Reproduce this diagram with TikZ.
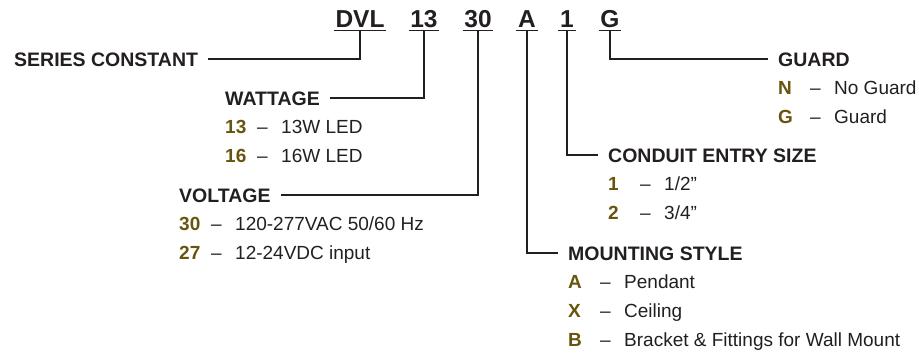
\documentclass[tikz,border=0pt]{standalone}
\usepackage{fontspec}
\setmainfont{Liberation Sans}
\usepackage{xcolor}
\usetikzlibrary{positioning}
\definecolor{keyolive}{RGB}{102,85,12}
\definecolor{keyink}{RGB}{35,31,32}
\newcommand{\choice}[2]{\makebox[32pt][l]{\bfseries\color{keyolive}#1}\makebox[24pt][l]{--}#2}

\begin{document}
\begin{tikzpicture}[
  x=1pt, y=-1pt,
  every node/.style={text=keyink, inner sep=0pt},
  topcode/.style={anchor=base, font=\fontsize{24.5}{25}\selectfont\bfseries, text height=17.5pt, text depth=3pt, inner xsep=1.5pt},
  heading/.style={anchor=base west, font=\fontsize{19.5}{20}\selectfont\bfseries, text height=14pt, text depth=0pt},
  row/.style={below=28.7pt of #1.base west, anchor=base west, font=\fontsize{19}{20}\selectfont},
  lead/.style={draw=keyink, line width=2.6pt, shorten >=10pt},
  underline/.style={draw=keyink, line width=1.4pt}
]
\useasboundingbox (0,0) rectangle (919,354);

% Part number
\node[topcode] (cdvl) at (360,27) {DVL};
\node[topcode] (c13) at (424,27) {13};
\node[topcode] (c30) at (478,27) {30};
\node[topcode] (cA) at (527,27) {A};
\node[topcode] (c1) at (567,27) {1};
\node[topcode] (cG) at (610,27) {G};
\foreach \c in {cdvl,c13,c30,cA,c1,cG}
  \draw[underline] (\c.south west) -- (\c.south east);

% Headings and choices
\node[heading] (series) at (14,66) {SERIES CONSTANT};

\node[heading] (wattage) at (225,105) {WATTAGE};
\node[row=wattage] (w13) {\choice{13}{13W LED}};
\node[row=w13] (w16) {\choice{16}{16W LED}};

\node[heading] (voltage) at (179,202) {VOLTAGE};
\node[row=voltage] (v30) {\choice{30}{120-277VAC 50/60 Hz}};
\node[row=v30] (v27) {\choice{27}{12-24VDC input}};

\node[heading] (guard) at (778,66) {GUARD};
\node[row=guard] (gN) {\choice{N}{No Guard}};
\node[row=gN] (gG) {\choice{G}{Guard}};

\node[heading] (conduit) at (608,162) {CONDUIT ENTRY SIZE};
\node[row=conduit] (e1) {\choice{1}{1/2”}};
\node[row=e1] (e2) {\choice{2}{3/4”}};

\node[heading] (mounting) at (568,260) {MOUNTING STYLE};
\node[row=mounting] (mA) {\choice{A}{Pendant}};
\node[row=mA] (mX) {\choice{X}{Ceiling}};
\node[row=mX] (mB) {\choice{B}{Bracket \& Fittings for Wall Mount}};

% Leaders
\draw[lead] (cdvl.south) |- (series.east);
\draw[lead] (c13.south) |- (wattage.east);
\draw[lead] (c30.south) |- (voltage.east);
\draw[lead] (cA.south) |- (mounting.west);
\draw[lead] (c1.south) |- (conduit.west);
\draw[lead] (cG.south) |- (guard.west);

\end{tikzpicture}
\end{document}
